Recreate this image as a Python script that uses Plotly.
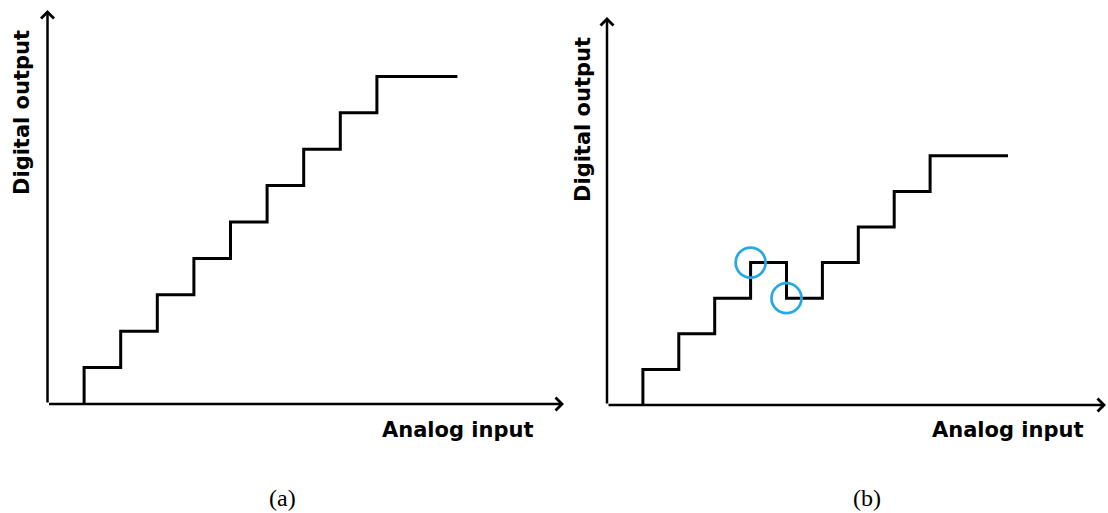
import plotly.graph_objects as go

W, H = 1108, 513

# ---- data ----
transitions_a = [1, 2, 3, 4, 5, 6, 7, 8, 9]
codes_a = [1, 2, 3, 4, 5, 6, 7, 8, 9]
end_a = 11.2

transitions_b = [1, 2, 3, 4, 5, 6, 7, 8, 9]
codes_b = [1, 2, 3, 4, 3, 4, 5, 6, 7]
end_b = 11.17
glitch_idx = [3, 4]

x_label = "Analog input"
y_label = "Digital output"
panel_labels = ["(a)", "(b)"]

BLACK = "#000000"
CYAN = "#24a9e1"


def staircase(trans, codes, end):
    xs = [trans[0]] + list(trans) + [end]
    ys = [0] + list(codes) + [codes[-1]]
    return xs, ys


fig = go.Figure()

xa, ya = staircase(transitions_a, codes_a, end_a)
fig.add_trace(go.Scatter(x=xa, y=ya, mode="lines", line=dict(color=BLACK, width=3, shape="hv"),
                         xaxis="x", yaxis="y", hoverinfo="skip", showlegend=False))

xb, yb = staircase(transitions_b, codes_b, end_b)
fig.add_trace(go.Scatter(x=xb, y=yb, mode="lines", line=dict(color=BLACK, width=3, shape="hv"),
                         xaxis="x2", yaxis="y2", hoverinfo="skip", showlegend=False))

fig.add_trace(go.Scatter(x=[transitions_b[i] for i in glitch_idx],
                         y=[codes_b[i] for i in glitch_idx],
                         mode="markers",
                         marker=dict(symbol="circle-open", size=30, color=CYAN,
                                     line=dict(width=2.7, color=CYAN)),
                         xaxis="x2", yaxis="y2", hoverinfo="skip", showlegend=False))

# pixel geometry of the two panels
L_ox, L_oy, L_sx, L_sy = 47.5, 404, 36.6, 36.4
R_ox, R_oy, R_sx, R_sy = 607, 405, 35.9, 35.6
split = 576

fig.update_layout(
    width=W, height=H,
    margin=dict(l=0, r=0, t=0, b=0),
    paper_bgcolor="white", plot_bgcolor="white",
    xaxis=dict(domain=[0, split / W], range=[(0 - L_ox) / L_sx, (split - L_ox) / L_sx],
               visible=False, anchor="y"),
    yaxis=dict(domain=[0, 1], range=[-(H - L_oy) / L_sy, L_oy / L_sy], visible=False, anchor="x"),
    xaxis2=dict(domain=[split / W, 1], range=[(split - R_ox) / R_sx, (W - R_ox) / R_sx],
                visible=False, anchor="y2"),
    yaxis2=dict(domain=[0, 1], range=[-(H - R_oy) / R_sy, R_oy / R_sy], visible=False, anchor="x2"),
)


def arrow(xref, yref, x, y):
    return dict(x=x, y=y, ax=0, ay=0, xref=xref, yref=yref, axref=xref, ayref=yref,
                text="", showarrow=True, arrowhead=4, arrowsize=1, arrowwidth=2.5,
                arrowcolor=BLACK, standoff=0, startstandoff=0)

ann = [
    arrow("x", "y", (564 - L_ox) / L_sx, 0),
    arrow("x", "y", 0, (L_oy - 10) / L_sy),
    arrow("x2", "y2", (1106 - R_ox) / R_sx, 0),
    arrow("x2", "y2", 0, (R_oy - 17) / R_sy),
]

lab_font = dict(family="DejaVu Sans", size=21, color=BLACK, weight="bold")


def px(x, y):
    return x / W, 1 - y / H


for (cx, cy) in [(458, 430), (1008, 430)]:
    X, Y = px(cx, cy)
    ann.append(dict(x=X, y=Y, xref="paper", yref="paper", text=f"<b>{x_label}</b>", showarrow=False,
                    font=lab_font, xanchor="center", yanchor="middle"))
for (cx, cy) in [(22, 113), (583, 120)]:
    X, Y = px(cx, cy)
    ann.append(dict(x=X, y=Y, xref="paper", yref="paper", text=f"<b>{y_label}</b>", showarrow=False,
                    font=lab_font, textangle=-90, xanchor="center", yanchor="middle"))
for lab, (cx, cy) in zip(panel_labels, [(282, 498), (867, 498)]):
    X, Y = px(cx, cy)
    ann.append(dict(x=X, y=Y, xref="paper", yref="paper", text=lab, showarrow=False,
                    font=dict(family="Liberation Serif", size=24, color=BLACK),
                    xanchor="center", yanchor="middle"))

fig.update_layout(annotations=ann)
fig.write_html("out.html")
